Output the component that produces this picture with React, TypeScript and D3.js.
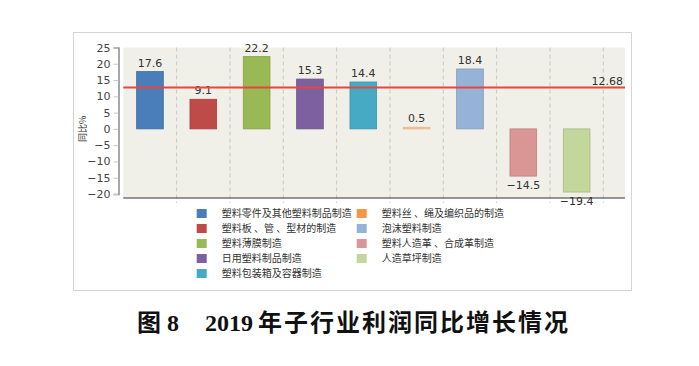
import React, { useEffect, useRef } from 'react';
import * as d3 from 'd3';

const categories = [
  '塑料零件及其他塑料制品制造',
  '塑料板、管、型材的制造',
  '塑料薄膜制造',
  '日用塑料制品制造',
  '塑料包装箱及容器制造',
  '塑料丝、绳及编织品的制造',
  '泡沫塑料制造',
  '塑料人造革、合成革制造',
  '人造草坪制造',
];
const legendLabels = [
  '塑料零件及其他塑料制品制造',
  '塑料板 、管 、型材的制造',
  '塑料薄膜制造',
  '日用塑料制品制造',
  '塑料包装箱及容器制造',
  '塑料丝 、绳及编织品的制造',
  '泡沫塑料制造',
  '塑料人造革 、合成革制造',
  '人造草坪制造',
];
const values = [17.6, 9.1, 22.2, 15.3, 14.4, 0.5, 18.4, -14.5, -19.4];
const colors = ['#4a7ebb', '#be4b48', '#98b954', '#7d60a0', '#46aac5', '#f79646', '#95b3d7', '#d99694', '#c3d69b'];
const average = 12.68;
const yTicks = [25, 20, 15, 10, 5, 0, -5, -10, -15, -20];

const App = () => {
  const ref = useRef<SVGSVGElement>(null);

  useEffect(() => {
    const svg = d3.select(ref.current);
    svg.selectAll('*').remove();

    const left = 123.3;
    const right = 625;
    const top = 47.5;
    const bottom = 198;

    const x = d3.scaleBand<string>().domain(categories).range([left, 603.3]).padding(0);
    const y = d3.scaleLinear().domain([-20, 25]).range([194, 47.5]);
    const bw = x.bandwidth() * 0.5;

    // outer frame
    svg.append('rect')
      .attr('x', 73.5).attr('y', 32.5).attr('width', 558).attr('height', 258)
      .attr('fill', '#fff').attr('stroke', '#d4d4d4');

    // plot background
    svg.append('rect')
      .attr('x', left).attr('y', top).attr('width', right - left).attr('height', bottom - top)
      .attr('fill', '#f0f0e8');

    // dashed category separators
    categories.forEach((c) => {
      const gx = (x(c) || 0) + x.bandwidth();
      svg.append('line')
        .attr('x1', gx).attr('x2', gx).attr('y1', top).attr('y2', bottom + 5)
        .attr('stroke', '#c8c8c8').attr('stroke-dasharray', '4,3');
    });

    // y axis
    const yAxis = svg.append('g').attr('transform', 'translate(118.5,0)')
      .call(d3.axisLeft(y).tickValues(yTicks).tickSize(5).tickPadding(3)
        .tickFormat((d) => d3.format('')(d as number).replace('-', '−')));
    yAxis.select('.domain').attr('stroke', '#8a8a8a').attr('stroke-width', 1.5);
    yAxis.selectAll('.tick line').attr('stroke', '#c8c8c8');
    yAxis.selectAll('.tick text')
      .attr('fill', '#444').attr('font-size', 11).attr('font-family', 'DejaVu Sans, Verdana, sans-serif');

    // bottom axis line
    svg.append('line')
      .attr('x1', left).attr('x2', right).attr('y1', bottom).attr('y2', bottom)
      .attr('stroke', '#333').attr('stroke-width', 1.2);

    // bars
    svg.selectAll('.bar')
      .data(values)
      .enter()
      .append('rect')
      .attr('class', 'bar')
      .attr('x', (d, i) => (x(categories[i]) || 0) + x.bandwidth() / 2 - bw / 2)
      .attr('width', bw)
      .attr('y', (d) => y(Math.max(0, d)))
      .attr('height', (d) => Math.abs(y(d) - y(0)))
      .attr('fill', (d, i) => (Math.abs(d) < 1 ? '#f8c49a' : colors[i]))
      .attr('stroke', (d, i) => (Math.abs(d) < 1 ? '#f2b27e' : d3.color(colors[i])!.darker(0.4).formatHex()))
      .attr('stroke-width', 0.8);

    // value labels
    svg.selectAll('.vlabel')
      .data(values)
      .enter()
      .append('text')
      .attr('class', 'vlabel')
      .attr('x', (d, i) => (x(categories[i]) || 0) + x.bandwidth() / 2)
      .attr('y', (d) => (d >= 0 ? y(d) - 5 : y(d) + 13))
      .attr('text-anchor', 'middle')
      .attr('font-size', 11)
      .attr('font-family', 'DejaVu Sans, Verdana, sans-serif')
      .attr('fill', '#333')
      .text((d) => d3.format('.1f')(d).replace('-', '−'));

    // average line
    svg.append('line')
      .attr('x1', left).attr('x2', right).attr('y1', y(average)).attr('y2', y(average))
      .attr('stroke', '#e8453c').attr('stroke-width', 2);
    svg.append('text')
      .attr('x', 623).attr('y', y(average) - 3)
      .attr('text-anchor', 'end')
      .attr('font-size', 11)
      .attr('font-family', 'DejaVu Sans, Verdana, sans-serif')
      .attr('fill', '#333')
      .text(String(average));

    // y axis title
    svg.append('text')
      .attr('transform', `translate(86,${y(0)}) rotate(-90)`)
      .attr('text-anchor', 'middle')
      .attr('font-size', 9)
      .attr('font-family', 'Noto Sans CJK SC, sans-serif')
      .attr('fill', '#333')
      .text('同比%');

    // legend
    const legend = svg.append('g');
    legendLabels.forEach((label, i) => {
      const col = i < 5 ? 0 : 1;
      const row = i < 5 ? i : i - 5;
      const lx = col === 0 ? 196.7 : 356.7;
      const ly = 213.5 + row * 15;
      legend.append('rect')
        .attr('x', lx).attr('y', ly - 4.5).attr('width', 10).attr('height', 9)
        .attr('fill', colors[i]);
      legend.append('text')
        .attr('x', lx + 25).attr('y', ly + 3.5)
        .attr('font-size', 10)
        .attr('font-family', 'Noto Sans CJK SC, sans-serif')
        .attr('fill', '#333')
        .text(label);
    });

    // caption
    const cap = svg.append('text')
      .attr('y', 331)
      .attr('font-size', 24)
      .attr('font-weight', 'bold')
      .attr('font-family', 'Liberation Serif, Noto Sans CJK SC, serif')
      .attr('fill', '#111');
    cap.append('tspan').attr('x', 137).text('图 8');
    cap.append('tspan').attr('x', 205).text('2019');
    cap.append('tspan').attr('x', 258).attr('letter-spacing', 2).text('年子行业利润同比增长情况');
  }, []);

  return (
    <svg ref={ref} width={699} height={366} style={{ position: 'absolute', left: 0, top: 0, background: '#fff' }} />
  );
};

export default App;
